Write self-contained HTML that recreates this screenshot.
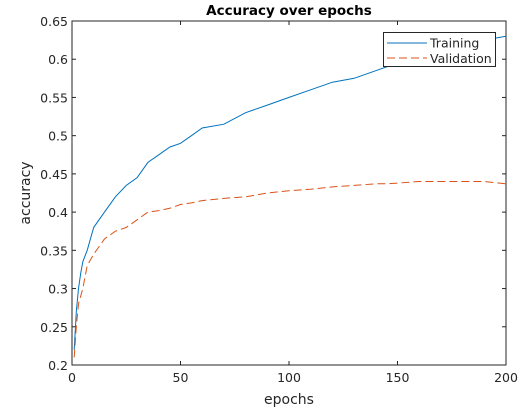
<!DOCTYPE html>
<html><head><meta charset="utf-8"><style>
body{margin:0;background:#fff;}
text{font-family:"DejaVu Sans","Liberation Sans",sans-serif;}
</style></head><body>
<svg id="chart" width="522" height="410" xmlns="http://www.w3.org/2000/svg"></svg>
<script>
const epochs = [1,2,3,4,5,7,10,15,20,25,30,35,40,45,50,55,60,70,80,90,100,110,120,130,140,145,150,160,170,180,190,200];
const trainAcc = [0.22,0.27,0.30,0.32,0.335,0.35,0.38,0.40,0.42,0.435,0.445,0.465,0.475,0.485,0.49,0.50,0.51,0.515,0.53,0.54,0.55,0.56,0.57,0.575,0.585,0.59,0.60,0.61,0.615,0.62,0.625,0.63];
const valAcc = [0.21,0.25,0.28,0.29,0.30,0.33,0.345,0.365,0.375,0.38,0.39,0.40,0.402,0.405,0.41,0.412,0.415,0.418,0.42,0.425,0.428,0.43,0.433,0.435,0.437,0.437,0.438,0.44,0.44,0.44,0.44,0.437];
const xTicks = [0,50,100,150,200];
const yTicks = [0.2,0.25,0.3,0.35,0.4,0.45,0.5,0.55,0.6,0.65];

const L=72,R=506,T=21,B=365;
const xs=v=>L+(v-0)/200*(R-L);
const ys=v=>B-(v-0.2)/0.45*(B-T);
const svg=document.getElementById('chart');
const NS='http://www.w3.org/2000/svg';
function mk(tag,attrs,parent){const e=document.createElementNS(NS,tag);for(const k in attrs)e.setAttribute(k,attrs[k]);(parent||svg).appendChild(e);return e;}

const title=mk('text',{x:(L+R)/2,y:15,'text-anchor':'middle','font-size':13.5,'font-weight':'bold',fill:'#000'});
title.textContent='Accuracy over epochs';



const ax=mk('g',{});


xTicks.forEach(t=>{
  mk('line',{x1:xs(t),x2:xs(t),y1:B,y2:B-4,stroke:'#262626','stroke-width':1},ax);
  mk('line',{x1:xs(t),x2:xs(t),y1:T,y2:T+4,stroke:'#262626','stroke-width':1},ax);
  const tx=mk('text',{x:xs(t),y:B+17,'text-anchor':'middle','font-size':12.5,fill:'#262626'},ax);
  tx.textContent=t;
  
  
});
yTicks.forEach(t=>{
  mk('line',{x1:L,x2:L+4,y1:ys(t),y2:ys(t),stroke:'#262626','stroke-width':1},ax);
  mk('line',{x1:R,x2:R-4,y1:ys(t),y2:ys(t),stroke:'#262626','stroke-width':1},ax);
  const tx=mk('text',{x:L-4,y:ys(t)+5,'text-anchor':'end','font-size':12.5,fill:'#262626'},ax);
  tx.textContent=String(t);
  
  
});
mk('rect',{x:L,y:T,width:R-L,height:B-T,fill:'none',stroke:'#262626','stroke-width':1},ax);

const xl=mk('text',{x:(L+R)/2,y:404,'text-anchor':'middle','font-size':14,fill:'#262626'});
xl.textContent='epochs';


const yl=mk('text',{x:0,y:0,'text-anchor':'middle','font-size':14,fill:'#262626',transform:`translate(30,${(T+B)/2}) rotate(-90)`});
yl.textContent='accuracy';



function path(vals){return epochs.map((e,i)=>(i?'L':'M')+xs(e).toFixed(1)+','+ys(vals[i]).toFixed(1)).join(' ');}
const tl=mk('path',{d:path(trainAcc),fill:'none',stroke:'#0072BD','stroke-width':1});


const vl=mk('path',{d:path(valAcc),fill:'none',stroke:'#D95319','stroke-width':1,'stroke-dasharray':'8,4'});



const lg=mk('g',{});


mk('rect',{x:383.5,y:32.5,width:112,height:34,fill:'#fff',stroke:'#262626','stroke-width':1},lg);
mk('line',{x1:387,x2:427,y1:43,y2:43,stroke:'#0072BD','stroke-width':1},lg);
mk('line',{x1:387,x2:427,y1:58,y2:58,stroke:'#D95319','stroke-width':1,'stroke-dasharray':'8,4'},lg);
const l1=mk('text',{x:430,y:47.5,'font-size':12.5,fill:'#262626'},lg);
l1.textContent='Training';


const l2=mk('text',{x:430,y:63,'font-size':12.5,fill:'#262626'},lg);
l2.textContent='Validation';


</script>
</body></html>
